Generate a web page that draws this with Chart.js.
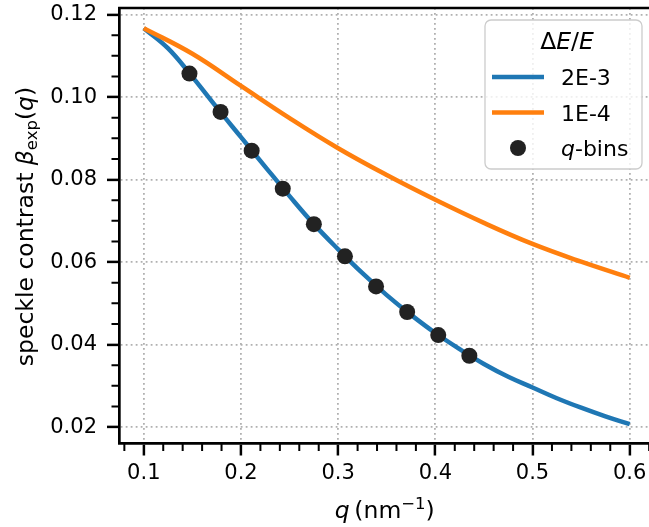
<!DOCTYPE html>
<html>
<head>
<meta charset="utf-8">
<script src="https://cdn.jsdelivr.net/npm/chart.js@4.4.0/dist/chart.umd.min.js"></script>
<style>
  html, body { margin: 0; padding: 0; overflow: hidden; background: #fff; }
  #wrap { width: 649px; height: 527px; overflow: hidden; }
  canvas { display: block; }
</style>
</head>
<body>
<div id="wrap"><canvas id="myChart" width="680" height="527"></canvas></div>
<script>
// values
var qBlue = [0.100, 0.125, 0.150, 0.175, 0.200, 0.225, 0.250, 0.275, 0.300, 0.325, 0.350,
             0.375, 0.400, 0.425, 0.450, 0.475, 0.500, 0.525, 0.550, 0.575, 0.600];
var betaBlue = [0.1167, 0.1118, 0.1049, 0.0975, 0.0903, 0.0831, 0.0760, 0.0692, 0.0631, 0.0573, 0.0520,
                0.0472, 0.0428, 0.0389, 0.0353, 0.0322, 0.0296, 0.0270, 0.0247, 0.0226, 0.0207];
var qOrange = [0.10, 0.15, 0.20, 0.25, 0.30, 0.35, 0.40, 0.45, 0.50, 0.55, 0.60];
var betaOrange = [0.1167, 0.1105, 0.1027, 0.0949, 0.0876, 0.0811, 0.0751, 0.0695, 0.0644, 0.0601, 0.0562];
var qBins = [0.147, 0.179, 0.211, 0.243, 0.275, 0.307, 0.339, 0.371, 0.403, 0.435];
var betaBins = [0.1057, 0.0964, 0.0870, 0.0778, 0.0692, 0.0614, 0.0541, 0.0479, 0.0423, 0.0373];
var seriesLabels = ["2E-3", "1E-4", "q-bins"];

var xTicks = [0.1, 0.2, 0.3, 0.4, 0.5, 0.6];
var xMinor = [0.08, 0.12, 0.14, 0.16, 0.18, 0.22, 0.24, 0.26, 0.28, 0.32, 0.34, 0.36, 0.38,
              0.42, 0.44, 0.46, 0.48, 0.52, 0.54, 0.56, 0.58, 0.62];
var yTicks = [0.02, 0.04, 0.06, 0.08, 0.10, 0.12];
var yMinor = [0.025, 0.03, 0.035, 0.045, 0.05, 0.055, 0.065, 0.07, 0.075, 0.085, 0.09, 0.095,
              0.105, 0.11, 0.115];

var FONT = "'DejaVu Sans', sans-serif";

function pts(xs, ys) {
  return xs.map(function(x, i) { return { x: x, y: ys[i] }; });
}

// draw a row of text pieces: [text, style, size, dy]
function drawRuns(c, runs, x, y, align) {
  var total = 0;
  runs.forEach(function(r) {
    c.font = r[1] + " " + r[2] + "px " + FONT;
    r.w = c.measureText(r[0]).width;
    total += r.w;
  });
  var cx = align === "center" ? x - total / 2 : x;
  runs.forEach(function(r) {
    c.font = r[1] + " " + r[2] + "px " + FONT;
    c.fillText(r[0], cx, y + (r[3] || 0));
    cx += r.w;
  });
}

var extras = {
  id: "extras",
  afterDatasetsDraw: function(chart) {
    var c = chart.ctx, a = chart.chartArea;
    var sx = chart.scales.x, sy = chart.scales.y;
    c.save();
    c.strokeStyle = "#000";
    // top spine
    c.lineWidth = 2.7;
    c.beginPath();
    c.moveTo(a.left - 1.35, a.top);
    c.lineTo(a.right, a.top);
    c.stroke();
    // minor ticks
    c.lineWidth = 2;
    c.beginPath();
    xMinor.forEach(function(v) {
      var p = sx.getPixelForValue(v);
      c.moveTo(p, a.bottom);
      c.lineTo(p, a.bottom + 8);
    });
    yMinor.forEach(function(v) {
      var p = sy.getPixelForValue(v);
      c.moveTo(a.left - 8, p);
      c.lineTo(a.left, p);
    });
    c.stroke();
    c.restore();
  },
  afterDraw: function(chart) {
    var c = chart.ctx, a = chart.chartArea;
    c.save();
    c.fillStyle = "#000";
    c.textBaseline = "alphabetic";
    c.textAlign = "left";
    // axis titles
    drawRuns(c, [["q", "italic", 23.5], ["\u2009(", "normal", 23.5], ["nm", "normal", 23.5],
                 ["\u22121", "normal", 16.5, -9], [")", "normal", 23.5]],
             (a.left + a.right) / 2 - 2, 518, "center");
    c.save();
    c.translate(33, (a.top + a.bottom) / 2 + 1);
    c.rotate(-Math.PI / 2);
    drawRuns(c, [["speckle contrast ", "normal", 23.5], ["\u03B2", "italic", 23.5],
                 ["exp", "normal", 16.5, 4], ["(", "normal", 23.5], ["q", "italic", 23.5],
                 [")", "normal", 23.5]], 0, 0, "center");
    c.restore();

    // legend
    var w = 157, h = 149, x = a.right - 12 - w, y = a.top + 12, r = 6;
    c.beginPath();
    c.moveTo(x + r, y);
    c.arcTo(x + w, y, x + w, y + h, r);
    c.arcTo(x + w, y + h, x, y + h, r);
    c.arcTo(x, y + h, x, y, r);
    c.arcTo(x, y, x + w, y, r);
    c.closePath();
    c.fillStyle = "rgba(255,255,255,0.8)";
    c.fill();
    c.strokeStyle = "#cccccc";
    c.lineWidth = 1.3;
    c.stroke();

    c.fillStyle = "#000";
    drawRuns(c, [["\u0394", "normal", 23.5], ["E", "italic", 23.5], ["/", "normal", 23.5], ["E", "italic", 23.5]],
             x + 82, y + 29, "center");

    chart.data.datasets.forEach(function(ds, i) {
      var ry = y + 57 + i * 35.5;
      if (ds.showLine) {
        c.strokeStyle = ds.borderColor;
        c.lineWidth = ds.borderWidth;
        c.beginPath();
        c.moveTo(x + 7, ry);
        c.lineTo(x + 59, ry);
        c.stroke();
      } else {
        c.fillStyle = ds.backgroundColor;
        c.beginPath();
        c.arc(x + 33, ry, ds.pointRadius, 0, Math.PI * 2);
        c.fill();
      }
      c.fillStyle = "#000";
      var lab = ds.label;
      var runs = lab.indexOf("q-") === 0
        ? [["q", "italic", 22], [lab.slice(1), "normal", 22]]
        : [[lab, "normal", 22]];
      drawRuns(c, runs, x + 76, ry + 8, "left");
    });
    c.restore();
  }
};

var tickFont = { family: FONT, size: 21 };

var myChart = new Chart(document.getElementById("myChart"), {
  type: "scatter",
  data: {
    datasets: [
      {
        label: seriesLabels[0],
        data: pts(qBlue, betaBlue),
        showLine: true,
        borderColor: "#1f77b4",
        borderWidth: 4.5,
        pointRadius: 0,
        pointHoverRadius: 0,
        tension: 0.4,
        order: 3
      },
      {
        label: seriesLabels[1],
        data: pts(qOrange, betaOrange),
        showLine: true,
        borderColor: "#ff7f0e",
        borderWidth: 4.5,
        pointRadius: 0,
        pointHoverRadius: 0,
        tension: 0.4,
        order: 2
      },
      {
        label: seriesLabels[2],
        data: pts(qBins, betaBins),
        showLine: false,
        backgroundColor: "#222222",
        borderWidth: 0,
        pointRadius: 8,
        pointHoverRadius: 8,
        order: 1
      }
    ]
  },
  options: {
    responsive: false,
    animation: false,
    events: [],
    layout: { padding: { top: 5.7, right: 26, bottom: 0, left: 0 } },
    plugins: { legend: { display: false }, tooltip: { enabled: false } },
    scales: {
      x: {
        type: "linear",
        min: 0.075,
        max: 0.625,
        afterBuildTicks: function(s) { s.ticks = xTicks.map(function(v) { return { value: v }; }); },
        afterFit: function(s) { s.height = 84; s.paddingLeft = 0; s.paddingRight = 0; },
        ticks: {
          autoSkip: false,
          maxRotation: 0,
          color: "#000",
          font: tickFont,
          padding: 5,
          callback: function(v) { return v.toFixed(1); }
        },
        grid: { color: "#b0b0b0", lineWidth: 1.8, tickColor: "#000", tickWidth: 2.5, tickLength: 12.5 },
        border: { color: "#000", width: 2.7, dash: [1.8, 3.2] }
      },
      y: {
        type: "linear",
        min: 0.01614,
        max: 0.1216,
        afterBuildTicks: function(s) { s.ticks = yTicks.map(function(v) { return { value: v }; }); },
        afterFit: function(s) { s.width = 119.5; s.paddingTop = 0; s.paddingBottom = 0; },
        ticks: {
          autoSkip: false,
          color: "#000",
          font: tickFont,
          padding: 10,
          callback: function(v) { return v.toFixed(2); }
        },
        grid: { color: "#b0b0b0", lineWidth: 1.8, tickColor: "#000", tickWidth: 2.5, tickLength: 12.5 },
        border: { color: "#000", width: 2.7, dash: [1.8, 3.2] }
      }
    }
  },
  plugins: [extras]
});
</script>
</body>
</html>
